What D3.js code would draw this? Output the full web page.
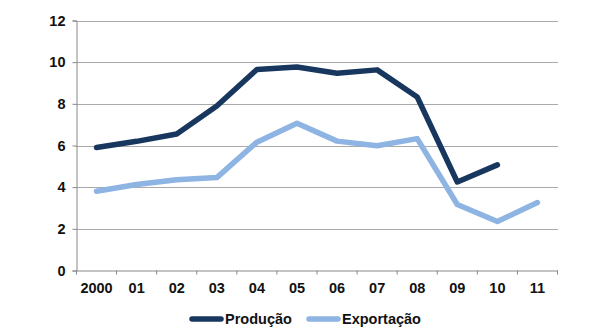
<!DOCTYPE html>
<html><head><meta charset="utf-8">
<script src="https://cdn.jsdelivr.net/npm/d3@7"></script>
<style>body{margin:0;background:#fff}svg{display:block}</style>
</head><body><svg id="c" width="605" height="333"></svg>
<script>
const categories = ["2000","01","02","03","04","05","06","07","08","09","10","11"];
const producao = [5.9, 6.2, 6.55, 7.9, 9.65, 9.77, 9.47, 9.63, 8.33, 4.25, 5.07, null];
const exportacao = [3.8, 4.13, 4.36, 4.46, 6.16, 7.07, 6.21, 5.99, 6.33, 3.17, 2.35, 3.26];
const yTicks = [0, 2, 4, 6, 8, 10, 12];
const seriesNames = ["Produção", "Exportação"];
const colors = ["#17375E", "#8DB4E2"];

(function () {
const svg = d3.select("#c");
const mLeft = 76.5, mRight = 557.5, mTop = 20.5, mBottom = 270.5;
const x = d3.scaleBand().domain(categories).range([mLeft, mRight]);
const y = d3.scaleLinear().domain([0, 12]).range([mBottom, mTop]);
const font = "'Liberation Sans', Arial, sans-serif";
const fs = 14.5;

// gridlines
svg.append("g").selectAll("line").data(yTicks.filter(d => d > 0)).join("line")
  .attr("x1", mLeft).attr("x2", mRight)
  .attr("y1", d => Math.round(y(d)) + 0.5).attr("y2", d => Math.round(y(d)) + 0.5)
  .attr("stroke", "#555").attr("stroke-width", 1).attr("stroke-dasharray", "1,1");

// y axis
const ya = svg.append("g").attr("transform", `translate(${mLeft},0)`)
  .call(d3.axisLeft(y).tickValues(yTicks).tickSize(4).tickPadding(7).tickFormat(d3.format("d")));
ya.select(".domain").attr("stroke", "#888");
ya.selectAll(".tick line").attr("stroke", "#888");
ya.selectAll("text").attr("font-family", font).attr("font-weight", "bold").attr("font-size", fs).attr("fill", "#111");

// x axis
const xa = svg.append("g").attr("transform", `translate(0,${mBottom})`)
  .call(d3.axisBottom(x).tickSize(0).tickPadding(12));
xa.select(".domain").attr("stroke", "#888");
xa.selectAll(".tick line").remove();
xa.selectAll("text").attr("font-family", font).attr("font-weight", "bold").attr("font-size", fs).attr("fill", "#111");
// category boundary ticks
const bounds = categories.map(c => x(c)).concat([x(categories[categories.length - 1]) + x.bandwidth()]);
svg.append("g").selectAll("line").data(bounds).join("line")
  .attr("x1", d => d).attr("x2", d => d).attr("y1", mBottom).attr("y2", mBottom + 4)
  .attr("stroke", "#888");

// lines
const line = d3.line().defined(d => d.v != null)
  .x(d => x(d.c) + x.bandwidth() / 2).y(d => y(d.v));
[[exportacao, 1], [producao, 0]].forEach(([arr, idx]) => {
  svg.append("path")
    .datum(categories.map((c, j) => ({ c, v: arr[j] })))
    .attr("d", line).attr("fill", "none")
    .attr("stroke", colors[idx]).attr("stroke-width", 5.5)
    .attr("stroke-linejoin", "round").attr("stroke-linecap", "round");
});

// legend
const legendX = [192, 309];
seriesNames.forEach((n, i) => {
  const g = svg.append("g").attr("transform", `translate(${legendX[i]},319)`);
  g.append("line").attr("x1", 0).attr("x2", 29).attr("y1", 0).attr("y2", 0)
    .attr("stroke", colors[i]).attr("stroke-width", 5.5).attr("stroke-linecap", "round");
  g.append("text").attr("x", 33).attr("y", 0).attr("dy", "0.34em")
    .attr("font-family", font).attr("font-weight", "bold").attr("font-size", fs).attr("fill", "#111").text(n);
});
})();
</script></body></html>
